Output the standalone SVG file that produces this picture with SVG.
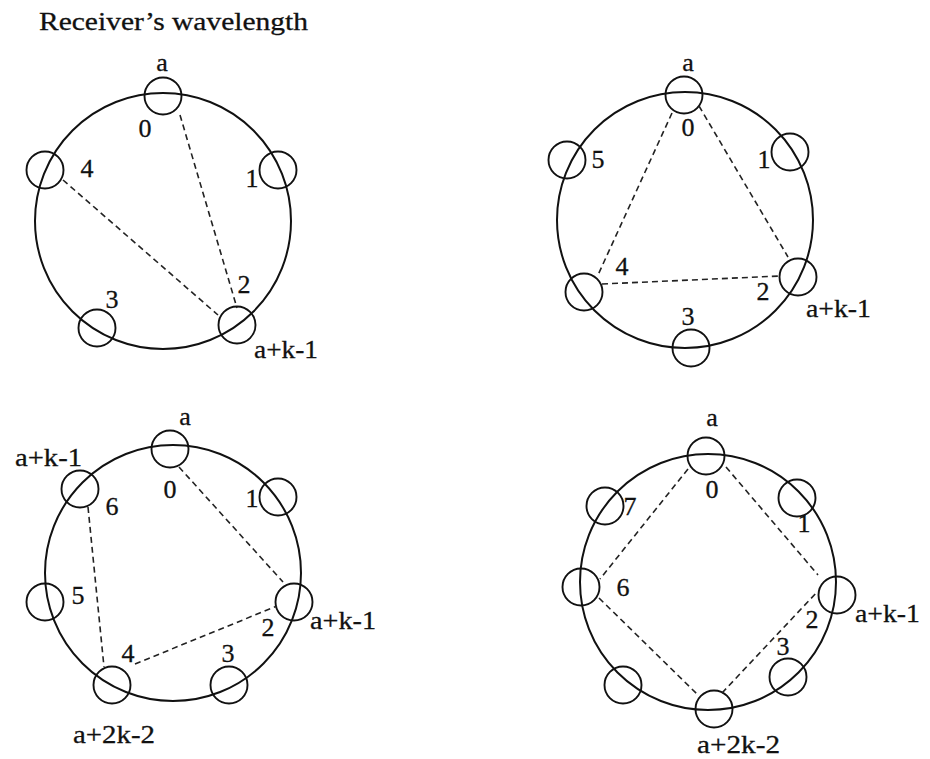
<svg xmlns="http://www.w3.org/2000/svg" width="930" height="759" viewBox="0 0 930 759">
<style>
.ring{fill:none;stroke:#111;stroke-width:2}
.node{fill:none;stroke:#111;stroke-width:1.9}
.dash{fill:none;stroke:#222;stroke-width:1.6;stroke-dasharray:6 4}
text{font-family:"Liberation Serif","Times New Roman",serif;font-size:26px;fill:#111;stroke:#111;stroke-width:0.3}
.m{text-anchor:middle}
</style>
<rect width="930" height="759" fill="#fff"/>
<text x="39" y="30" textLength="269" lengthAdjust="spacingAndGlyphs">Receiver’s wavelength</text>

<!-- Diagram 1 -->
<g id="d1">
<circle class="ring" cx="163" cy="221" r="128"/>
<g id="d1-n0"><circle class="node" cx="163" cy="96" r="18.5"/><text class="m" x="162" y="71">a</text><text class="m" x="145" y="137">0</text></g>
<g id="d1-n1"><circle class="node" cx="278" cy="170" r="18.5"/><text class="m" x="252" y="187">1</text></g>
<g id="d1-n2"><circle class="node" cx="237" cy="325" r="18.5"/><text class="m" x="244" y="293">2</text><text x="254" y="358" textLength="64" lengthAdjust="spacingAndGlyphs">a+k-1</text></g>
<g id="d1-n3"><circle class="node" cx="97" cy="328" r="18.5"/><text class="m" x="112" y="308">3</text></g>
<g id="d1-n4"><circle class="node" cx="45" cy="170" r="18.5"/><text class="m" x="87" y="177">4</text></g>
</g>

<!-- Diagram 2 -->
<g id="d2">
<circle class="ring" cx="685" cy="220" r="128"/>
<g id="d2-n0"><circle class="node" cx="684" cy="95" r="18.5"/><text class="m" x="688" y="71">a</text><text class="m" x="688" y="136">0</text></g>
<g id="d2-n1"><circle class="node" cx="790" cy="152" r="18.5"/><text class="m" x="764" y="168">1</text></g>
<g id="d2-n2"><circle class="node" cx="798" cy="277" r="18.5"/><text class="m" x="763" y="300">2</text><text x="806" y="317" textLength="65" lengthAdjust="spacingAndGlyphs">a+k-1</text></g>
<g id="d2-n3"><circle class="node" cx="691" cy="348" r="18.5"/><text class="m" x="688" y="325">3</text></g>
<g id="d2-n4"><circle class="node" cx="584" cy="292" r="18.5"/><text class="m" x="622" y="275">4</text></g>
<g id="d2-n5"><circle class="node" cx="567" cy="160" r="18.5"/><text class="m" x="598" y="168">5</text></g>
</g>

<!-- Diagram 3 -->
<g id="d3">
<circle class="ring" cx="173" cy="573" r="128"/>
<g id="d3-n0"><circle class="node" cx="170" cy="449" r="18.5"/><text class="m" x="185" y="425">a</text><text class="m" x="170" y="498">0</text></g>
<g id="d3-n1"><circle class="node" cx="278" cy="497" r="18.5"/><text class="m" x="252" y="507">1</text></g>
<g id="d3-n2"><circle class="node" cx="294" cy="602" r="18.5"/><text class="m" x="268" y="636">2</text><text x="310" y="629" textLength="66" lengthAdjust="spacingAndGlyphs">a+k-1</text></g>
<g id="d3-n3"><circle class="node" cx="229" cy="685" r="18.5"/><text class="m" x="228" y="662">3</text></g>
<g id="d3-n4"><circle class="node" cx="112" cy="685" r="18.5"/><text class="m" x="128" y="662">4</text><text x="73" y="743" textLength="82" lengthAdjust="spacingAndGlyphs">a+2k-2</text></g>
<g id="d3-n5"><circle class="node" cx="45" cy="602" r="18.5"/><text class="m" x="78" y="604">5</text></g>
<g id="d3-n6"><circle class="node" cx="80" cy="489" r="18.5"/><text class="m" x="112" y="515">6</text><text x="15" y="466" textLength="67" lengthAdjust="spacingAndGlyphs">a+k-1</text></g>
</g>

<!-- Diagram 4 -->
<g id="d4">
<circle class="ring" cx="708" cy="582" r="128"/>
<g id="d4-n0"><circle class="node" cx="706" cy="456" r="18.5"/><text class="m" x="712" y="426">a</text><text class="m" x="712" y="498">0</text></g>
<g id="d4-n1"><circle class="node" cx="797" cy="498" r="18.5"/><text class="m" x="804" y="532">1</text></g>
<g id="d4-n2"><circle class="node" cx="837" cy="595" r="18.5"/><text class="m" x="812" y="628">2</text><text x="855" y="622" textLength="65" lengthAdjust="spacingAndGlyphs">a+k-1</text></g>
<g id="d4-n3"><circle class="node" cx="788" cy="677" r="18.5"/><text class="m" x="783" y="655">3</text></g>
<g id="d4-n4"><circle class="node" cx="714" cy="709" r="18.5"/><text x="697" y="753" textLength="83" lengthAdjust="spacingAndGlyphs">a+2k-2</text></g>
<g id="d4-n5"><circle class="node" cx="623" cy="685" r="18.5"/></g>
<g id="d4-n6"><circle class="node" cx="581" cy="587" r="18.5"/><text class="m" x="623" y="596">6</text></g>
<g id="d4-n7"><circle class="node" cx="605" cy="506" r="18.5"/><text class="m" x="630" y="515">7</text></g>
</g>

<!-- Connectors -->
<g id="connectors">
<line class="dash" x1="180" y1="115" x2="237" y2="308"/>
<line class="dash" x1="63" y1="180" x2="218" y2="315"/>

<line class="dash" x1="672" y1="113" x2="598" y2="275"/>
<line class="dash" x1="699" y1="106" x2="788" y2="257"/>
<line class="dash" x1="602" y1="284" x2="780" y2="276"/>

<line class="dash" x1="179" y1="467" x2="283" y2="582"/>
<line class="dash" x1="88" y1="507" x2="104" y2="667"/>
<line class="dash" x1="135" y1="664" x2="277" y2="606"/>

<line class="dash" x1="688" y1="469" x2="600" y2="579"/>
<line class="dash" x1="726" y1="467" x2="818" y2="575"/>
<line class="dash" x1="599" y1="598" x2="698" y2="695"/>
<line class="dash" x1="722" y1="693" x2="818" y2="591"/>
</g>
</svg>
